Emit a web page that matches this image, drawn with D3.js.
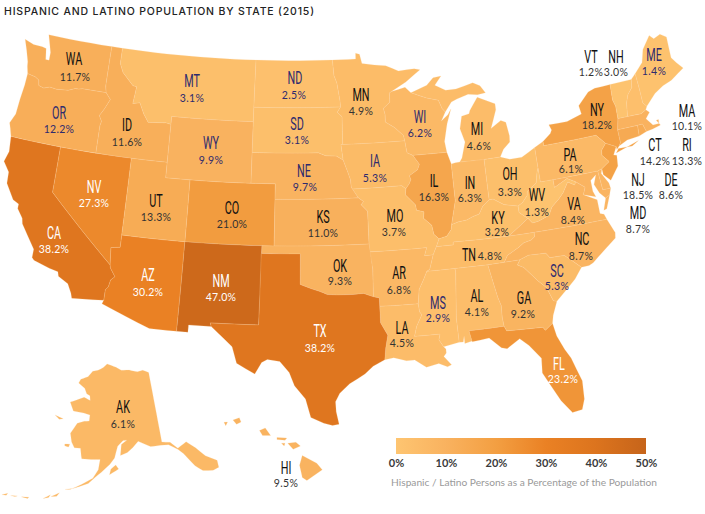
<!DOCTYPE html>
<html>
<head>
<meta charset="utf-8">
<script src="https://cdn.jsdelivr.net/npm/d3@7"></script>
<style>
  body { margin: 0; background: #fff; }
  svg { display: block; }
  .title { font-family: Inter, sans-serif; font-size: 10.5px; font-weight: 500; fill: #222; }
  .name { font-family: Roboto, sans-serif; font-size: 18px; }
  .val { font-family: Lato, sans-serif; font-size: 10.5px; letter-spacing: .3px; }
  .state { stroke: #fdd8a4; stroke-width: .4; stroke-opacity: .5; stroke-linejoin: round; }
  .legendAxis text { font-family: Lato, sans-serif; font-size: 11px; font-weight: 700; fill: #3a3a3a; }
  .caption { font-family: Lato, sans-serif; font-size: 10.2px; fill: #9a9a9a; }
</style>
</head>
<body>
<div id="map"></div>
<script>

// DATA

const titleText = "HISPANIC AND LATINO POPULATION BY STATE (2015)";
const captionText = "Hispanic / Latino Persons as a Percentage of the Population";

const stateCodes = ["AK","AL","AR","AZ","CA","CO","CT","DE","FL","GA","HI","IA","ID","IL","IN","KS","KY","LA","MA","MD","ME","MI","MN","MO","MS","MT","NC","ND","NE","NH","NJ","NM","NV","NY","OH","OK","OR","PA","RI","SC","SD","TN","TX","UT","VA","VT","WA","WI","WV","WY"];
const stateValues = [6.1,4.1,6.8,30.2,38.2,21.0,14.2,8.6,23.2,9.2,9.5,5.3,11.6,16.3,6.3,11.0,3.2,4.5,10.1,8.7,1.4,4.6,4.9,3.7,2.9,3.1,8.7,2.5,9.7,3.0,18.5,47.0,27.3,18.2,3.3,9.3,12.2,6.1,13.3,5.3,3.1,4.8,38.2,13.3,8.4,1.2,11.7,6.2,1.3,9.9];

const purpleStates = ["MT","ND","SD","WY","NE","OR","WI","IA","MS","SC","ME"];
const whiteStates = ["CA","NV","AZ","NM","TX","FL"];

const legendTicks = [0,10,20,30,40,50];
const colorStops = ["#fec571","#f9b25f","#f39f42","#ea8124","#dc741e","#c6641a"];

// outlines in lon/lat
const shapes = {
  WA: [[[-124.73,48.38],[-123.9,48.17],[-123.1,48.15],[-122.75,48.1],[-122.6,47.4],[-122.3,47.4],[-122.3,47.9],[-122.5,48.4],[-122.75,49],[-117.03,49],[-117.04,46.42],[-116.92,46],[-118.98,46],[-119.3,45.93],[-119.6,45.92],[-120.2,45.73],[-121.2,45.65],[-121.8,45.7],[-122.3,45.55],[-122.75,45.65],[-122.85,46],[-123.2,46.15],[-123.9,46.25],[-124.05,46.7],[-124.1,47],[-124.4,47.7]]],
  OR: [[[-123.9,46.25],[-123.2,46.15],[-122.85,46],[-122.75,45.65],[-122.3,45.55],[-121.8,45.7],[-121.2,45.65],[-120.2,45.73],[-119.6,45.92],[-119.3,45.93],[-118.98,46],[-116.92,46],[-116.47,45.6],[-116.85,44.95],[-117.2,44.45],[-116.95,44.1],[-117.03,43.8],[-117.03,42],[-124.21,42],[-124.4,42.5],[-124.55,42.84],[-124.2,43.5],[-124.1,44.5],[-123.95,45.5]]],
  CA: [[[-124.21,42],[-120,42],[-120,39],[-114.63,35],[-114.57,34.8],[-114.14,34.3],[-114.43,34.05],[-114.53,33.6],[-114.72,33.4],[-114.72,32.72],[-117.12,32.53],[-117.25,32.85],[-117.6,33.4],[-118.4,33.75],[-118.5,34.03],[-119.2,34.15],[-120.47,34.45],[-120.65,34.6],[-120.65,35.15],[-121.9,36.6],[-122,36.95],[-122.5,37.5],[-122.5,37.8],[-123,38],[-123.75,38.95],[-123.8,39.7],[-124.35,40.3],[-124.1,41]]],
  NV: [[[-120,42],[-114.04,42],[-114.04,36.2],[-114.75,36.1],[-114.63,35],[-120,39]]],
  ID: [[[-117.03,49],[-116.05,49],[-116.05,48],[-115.7,47.45],[-114.7,46.7],[-114.35,46.65],[-114.5,45.55],[-113.9,45.65],[-113.45,44.95],[-113,44.45],[-111.5,44.55],[-111.05,44.48],[-111.05,42],[-117.03,42],[-117.03,43.8],[-116.95,44.1],[-117.2,44.45],[-116.85,44.95],[-116.47,45.6],[-116.92,46],[-117.04,46.42]]],
  MT: [[[-116.05,49],[-104.05,49],[-104.05,45],[-111.05,45],[-111.05,44.48],[-111.5,44.55],[-113,44.45],[-113.45,44.95],[-113.9,45.65],[-114.5,45.55],[-114.35,46.65],[-114.7,46.7],[-115.7,47.45],[-116.05,48]]],
  WY: [[[-111.05,45],[-104.05,45],[-104.05,41],[-111.05,41]]],
  UT: [[[-114.04,42],[-111.05,42],[-111.05,41],[-109.05,41],[-109.05,37],[-114.04,37]]],
  CO: [[[-109.05,41],[-102.05,41],[-102.05,37],[-109.05,37]]],
  AZ: [[[-114.04,37],[-109.05,37],[-109.05,31.33],[-111.07,31.33],[-114.81,32.5],[-114.72,32.72],[-114.72,33.4],[-114.53,33.6],[-114.43,34.05],[-114.14,34.3],[-114.57,34.8],[-114.63,35],[-114.75,36.1],[-114.04,36.2]]],
  NM: [[[-109.05,37],[-103,37],[-103.04,32],[-106.62,32],[-106.53,31.78],[-108.21,31.78],[-108.21,31.33],[-109.05,31.33]]],
  ND: [[[-104.05,49],[-97.23,49],[-97.1,48],[-96.85,47.5],[-96.6,46.35],[-96.56,45.94],[-104.05,45.94]]],
  SD: [[[-104.05,45.94],[-96.56,45.94],[-96.85,45.6],[-96.45,45.3],[-96.45,43.5],[-96.6,43.5],[-96.45,42.49],[-97,42.76],[-97.9,42.8],[-98.5,43],[-104.05,43]]],
  NE: [[[-104.05,43],[-98.5,43],[-97.9,42.8],[-97,42.76],[-96.45,42.49],[-96.1,41.7],[-95.9,41.2],[-95.85,40.7],[-95.31,40],[-102.05,40],[-102.05,41],[-104.05,41]]],
  KS: [[[-102.05,40],[-95.31,40],[-94.9,39.75],[-95.1,39.55],[-94.61,39.11],[-94.62,37],[-102.05,37]]],
  OK: [[[-103,37],[-94.62,37],[-94.43,35.4],[-94.48,33.64],[-95.2,33.88],[-96,33.85],[-96.6,33.85],[-97.2,33.85],[-97.95,33.9],[-98.5,34.1],[-99.2,34.3],[-100,34.56],[-100,36.5],[-103,36.5]]],
  TX: [[[-103.04,36.5],[-100,36.5],[-100,34.56],[-99.2,34.3],[-98.5,34.1],[-97.95,33.9],[-97.2,33.85],[-96.6,33.85],[-96,33.85],[-95.2,33.88],[-94.48,33.64],[-94.04,33.55],[-94.04,32],[-93.55,31.2],[-93.75,30.4],[-93.85,29.7],[-94.7,29.35],[-95.3,28.9],[-96.4,28.35],[-97.1,27.8],[-97.4,27.3],[-97.35,26.7],[-97.15,25.96],[-97.6,25.9],[-98.2,26.05],[-99.1,26.4],[-99.5,27.5],[-100.3,28.3],[-100.7,29.1],[-101.4,29.77],[-102.3,29.88],[-102.7,29.7],[-103.15,28.98],[-104.5,29.6],[-104.9,30.6],[-106,31.4],[-106.53,31.78],[-106.62,32],[-103.04,32]]],
  MN: [[[-97.23,49],[-95.15,49],[-95.15,49.38],[-94.8,49.3],[-94.6,48.7],[-93.5,48.55],[-92.5,48.45],[-91.4,48.05],[-90,48.1],[-89.5,48],[-90.8,47.3],[-92.1,46.75],[-92.29,46.66],[-92.29,46.07],[-92.87,45.7],[-92.75,45.3],[-92.76,44.8],[-92,44.4],[-91.3,43.85],[-91.22,43.5],[-96.45,43.5],[-96.45,45.3],[-96.85,45.6],[-96.56,45.94],[-96.6,46.35],[-96.85,47.5],[-97.1,48]]],
  IA: [[[-96.6,43.5],[-91.22,43.5],[-91.15,43],[-91.1,42.7],[-90.64,42.51],[-90.15,41.9],[-90.34,41.55],[-91.05,41.2],[-90.95,40.95],[-91.1,40.7],[-91.42,40.38],[-91.73,40.61],[-95.77,40.58],[-95.85,40.7],[-95.9,41.2],[-96.1,41.7],[-96.45,42.49]]],
  MO: [[[-95.77,40.58],[-91.73,40.61],[-91.42,40.38],[-91.5,40],[-90.75,39.3],[-90.7,38.95],[-90.12,38.8],[-90.2,38.4],[-89.6,37.9],[-89.5,37.3],[-89.13,36.98],[-89.4,36.5],[-89.7,36],[-90.37,36],[-90.15,36.5],[-94.62,36.5],[-94.62,37],[-94.61,39.11],[-95.1,39.55],[-94.9,39.75],[-95.31,40]]],
  AR: [[[-94.62,36.5],[-90.15,36.5],[-90.37,36],[-89.7,36],[-90.07,35.1],[-90.3,35],[-90.6,34.5],[-91,33.9],[-91.15,33],[-94.04,33.02],[-94.04,33.55],[-94.48,33.64],[-94.43,35.4]]],
  LA: [[[-94.04,33.02],[-91.15,33],[-91.1,32.5],[-90.95,32.3],[-91.4,31.6],[-91.6,31],[-89.73,31],[-89.85,30.65],[-89.55,30.2],[-89.4,30.05],[-89.4,29.8],[-89.6,29.6],[-89.1,29.05],[-89.4,28.95],[-90,29.2],[-90.9,29.05],[-91.7,29.55],[-92.3,29.55],[-93.2,29.78],[-93.85,29.7],[-93.75,30.4],[-93.55,31.2],[-94.04,32]]],
  MS: [[[-90.3,35],[-88.2,35],[-88.1,34.9],[-88.43,31.9],[-88.4,30.37],[-89.55,30.2],[-89.85,30.65],[-89.73,31],[-91.6,31],[-91.4,31.6],[-90.95,32.3],[-91.1,32.5],[-91.15,33],[-91,33.9],[-90.6,34.5]]],
  AL: [[[-88.2,35],[-85.6,34.98],[-85.18,32.87],[-85,32.3],[-85.05,31.55],[-85,31],[-87.6,31],[-87.45,30.35],[-88,30.25],[-88,30.7],[-88.1,30.35],[-88.4,30.37],[-88.43,31.9],[-88.1,34.9]]],
  TN: [[[-89.4,36.5],[-88.07,36.5],[-88.05,36.68],[-83.68,36.6],[-81.68,36.59],[-81.7,36.3],[-82,36.13],[-82.6,36.03],[-83.1,35.77],[-84,35.4],[-84.32,34.99],[-85.6,34.98],[-88.2,35],[-90.3,35],[-90.07,35.1],[-89.7,36]]],
  KY: [[[-89.13,36.98],[-88.5,37.1],[-88.1,37.5],[-88.03,37.8],[-87.5,37.93],[-86.8,37.98],[-86.3,38.15],[-85.75,38.27],[-85.4,38.73],[-84.82,39.1],[-84.5,39.1],[-83.7,38.65],[-82.6,38.42],[-82.6,38],[-82,37.55],[-81.97,37.54],[-83.68,36.6],[-88.05,36.68],[-88.07,36.5],[-89.4,36.5]]],
  IL: [[[-87.53,41.7],[-87.8,42.49],[-90.64,42.51],[-90.15,41.9],[-90.34,41.55],[-91.05,41.2],[-90.95,40.95],[-91.1,40.7],[-91.42,40.38],[-91.5,40],[-90.75,39.3],[-90.7,38.95],[-90.12,38.8],[-90.2,38.4],[-89.6,37.9],[-89.5,37.3],[-89.13,36.98],[-88.5,37.1],[-88.1,37.5],[-88.03,37.8],[-87.53,39.3]]],
  IN: [[[-87.53,41.7],[-87.2,41.75],[-86.82,41.76],[-84.8,41.76],[-84.82,39.1],[-85.4,38.73],[-85.75,38.27],[-86.3,38.15],[-86.8,37.98],[-87.5,37.93],[-88.03,37.8],[-87.53,39.3]]],
  OH: [[[-84.8,41.72],[-83.45,41.73],[-82.7,41.5],[-81.7,41.5],[-80.52,41.98],[-80.52,40.64],[-80.65,40.4],[-80.87,39.7],[-81.7,39.25],[-81.75,39],[-82.2,38.6],[-82.6,38.42],[-83.7,38.65],[-84.5,39.1],[-84.82,39.1]]],
  MI: [[[-86.82,41.76],[-84.8,41.72],[-83.45,41.73],[-83.1,42.2],[-82.5,42.6],[-82.45,43],[-82.6,43.9],[-83,44.07],[-83.9,43.65],[-83.3,44.8],[-83.3,45.2],[-84.75,45.78],[-85.5,45],[-85.6,44.8],[-86.25,44.7],[-86.5,43.9],[-86.2,43],[-86.6,42]],
       [[-90.42,46.57],[-89,46.95],[-88.4,47.4],[-87.7,47.45],[-88.3,46.9],[-87.4,46.5],[-86.5,46.5],[-85,46.75],[-84.4,46.5],[-84,46],[-84.7,45.95],[-85.5,46.05],[-86.5,45.85],[-87,45.7],[-87.6,45.1],[-87.85,45.35],[-88.1,45.9],[-89.1,46.13]]],
  WI: [[[-92.1,46.75],[-90.9,46.95],[-90.42,46.57],[-89.1,46.13],[-88.1,45.9],[-87.85,45.35],[-87.6,45.1],[-88,44.55],[-87.4,44.9],[-87.1,45.25],[-87.55,44.3],[-87.9,43.2],[-87.8,42.49],[-90.64,42.51],[-91.1,42.7],[-91.15,43],[-91.22,43.5],[-91.3,43.85],[-92,44.4],[-92.76,44.8],[-92.75,45.3],[-92.87,45.7],[-92.29,46.07],[-92.29,46.66]]],
  GA: [[[-85.6,34.98],[-84.32,34.99],[-83.1,35],[-83.35,34.7],[-82.9,34.48],[-82,33.5],[-81.45,33],[-81.1,32.1],[-80.85,32.03],[-81.3,31.2],[-81.45,30.72],[-82.05,30.36],[-82.2,30.57],[-84.86,30.7],[-85,31],[-85.05,31.55],[-85,32.3],[-85.18,32.87]]],
  FL: [[[-87.6,31],[-85,31],[-84.86,30.7],[-82.2,30.57],[-82.05,30.36],[-81.45,30.72],[-81.3,29.9],[-80.9,29],[-80.55,28.4],[-80.05,26.9],[-80.13,25.8],[-80.4,25.2],[-81.1,25.13],[-81.75,25.95],[-82.1,26.6],[-82.75,27.8],[-82.65,28.7],[-83.4,29.6],[-84,30.1],[-85,29.6],[-85.4,29.7],[-86.2,30.4],[-87.45,30.3]]],
  SC: [[[-83.1,35],[-82.4,35.2],[-81.05,35.15],[-80.8,34.82],[-79.67,34.8],[-78.55,33.86],[-79.2,33.2],[-79.9,32.7],[-80.85,32.03],[-81.1,32.1],[-81.45,33],[-82,33.5],[-82.9,34.48],[-83.35,34.7]]],
  NC: [[[-84.32,34.99],[-84,35.4],[-83.1,35.77],[-82.6,36.03],[-82,36.13],[-81.7,36.3],[-81.68,36.59],[-75.87,36.55],[-75.45,35.6],[-75.53,35.25],[-76.55,34.65],[-77.6,34],[-77.95,33.87],[-78.55,33.86],[-79.67,34.8],[-80.8,34.82],[-81.05,35.15],[-82.4,35.2],[-83.1,35]]],
  VA: [[[-83.68,36.6],[-81.97,37.54],[-81.68,37.2],[-81.2,37.25],[-80.3,37.5],[-79.95,38],[-79.3,38.42],[-78.87,38.77],[-78.35,39.4],[-77.83,39.13],[-77.72,39.32],[-77.05,38.85],[-77.3,38.4],[-76.3,37.9],[-76.3,37],[-76,36.9],[-75.87,36.55],[-81.68,36.59]],
       [[-75.95,37.15],[-75.6,37.9],[-75.25,38.03],[-75.7,37.2]]],
  WV: [[[-80.52,40.64],[-80.52,39.72],[-79.48,39.72],[-79.48,39.2],[-78.35,39.63],[-77.72,39.32],[-77.83,39.13],[-78.35,39.4],[-78.87,38.77],[-79.3,38.42],[-79.95,38],[-80.3,37.5],[-81.2,37.25],[-81.68,37.2],[-81.97,37.54],[-82,37.55],[-82.6,38],[-82.6,38.42],[-82.2,38.6],[-81.75,39],[-81.7,39.25],[-80.87,39.7],[-80.65,40.4]]],
  PA: [[[-80.52,41.98],[-79.76,42.27],[-79.76,42],[-75.35,42],[-74.7,41.36],[-75.13,40.98],[-75.2,40.65],[-74.72,40.15],[-75.42,39.8],[-75.79,39.72],[-80.52,39.72]]],
  MD: [[[-79.48,39.72],[-75.79,39.72],[-75.7,38.46],[-75.05,38.45],[-75.25,38.03],[-75.6,37.9],[-76,38.3],[-76.3,38.9],[-76,39.5],[-76.5,39.2],[-76.5,38.5],[-76.35,38.1],[-77.3,38.4],[-77.05,38.85],[-77.72,39.32],[-78.35,39.63],[-79.48,39.2]]],
  DE: [[[-75.79,39.72],[-75.42,39.8],[-75.55,39.5],[-75.1,38.8],[-75.05,38.45],[-75.7,38.46]]],
  NJ: [[[-74.7,41.36],[-73.9,41],[-74.25,40.5],[-74,40.45],[-74.1,39.75],[-74.9,38.95],[-75.4,39.4],[-75.42,39.8],[-74.72,40.15],[-75.2,40.65],[-75.13,40.98]]],
  NY: [[[-79.76,42.27],[-79.05,42.7],[-78.9,42.9],[-79.05,43.27],[-77.5,43.25],[-76.2,43.55],[-76.3,44.1],[-75.3,44.85],[-74.7,45],[-73.35,45.01],[-73.4,44],[-73.25,43.55],[-73.28,42.75],[-73.5,42.05],[-73.49,41.2],[-73.65,41],[-73.9,40.8],[-73.9,41],[-74.7,41.36],[-75.35,42],[-79.76,42]],
       [[-74,40.6],[-72,41.05],[-72.6,40.8],[-73.75,40.85]]],
  CT: [[[-73.5,42.05],[-71.8,42.02],[-71.86,41.32],[-72.9,41.25],[-73.65,41],[-73.49,41.2]]],
  RI: [[[-71.8,42.02],[-71.38,42.02],[-71.2,41.5],[-71.86,41.32]]],
  MA: [[[-73.5,42.05],[-73.28,42.75],[-71.3,42.7],[-70.85,42.87],[-70.6,42.65],[-71,42.3],[-70.55,41.8],[-70.05,41.8],[-70,42.05],[-70.2,42.05],[-69.95,41.67],[-70.65,41.55],[-71.2,41.5],[-71.38,42.02],[-71.8,42.02]]],
  VT: [[[-73.35,45.01],[-71.5,45.01],[-71.6,44.5],[-72.05,44.1],[-72.3,43.6],[-72.46,42.73],[-73.28,42.75],[-73.25,43.55],[-73.4,44]]],
  NH: [[[-71.5,45.01],[-71.08,45.3],[-71,44.3],[-70.97,43.35],[-70.7,43.07],[-70.85,42.87],[-71.3,42.7],[-72.46,42.73],[-72.3,43.6],[-72.05,44.1],[-71.6,44.5]]],
  ME: [[[-71.08,45.3],[-70.3,45.9],[-70,46.7],[-69.23,47.46],[-68.9,47.18],[-68.3,47.36],[-67.8,47.07],[-67.8,45.7],[-67.45,45.3],[-67,44.85],[-68.2,44.3],[-69,44.1],[-69.8,43.75],[-70.7,43.07],[-70.97,43.35],[-71,44.3]]],
  AK: [[[-141,69.65],[-143,70.1],[-145,70],[-148,70.4],[-151,70.45],[-153,70.9],[-156.6,71.35],[-158,70.85],[-160,70.4],[-162,70.2],[-163.5,69.4],[-166,68.9],[-166.5,68.35],[-164,67.8],[-163,67.1],[-161.8,66.9],[-161.5,66.3],[-163.7,66.6],[-168,65.65],[-166.4,64.6],[-163,64.55],[-161,64.4],[-161,63.6],[-162.5,63.5],[-164.5,63.1],[-166,61.7],[-165.2,60.6],[-164.2,59.95],[-162.5,60],[-162,59],[-161.8,58.7],[-158.5,58.75],[-157,58.8],[-157.3,57.5],[-158.5,56.4],[-161,55.5],[-163.5,54.7],[-164.8,54.55],[-163,54.85],[-161.5,55.2],[-159.5,55.7],[-158,56.5],[-156.5,57.2],[-154.5,58.2],[-153.3,59],[-153,59.6],[-152.5,60.5],[-151,61.2],[-150,61.2],[-151.5,60.7],[-151.8,59.3],[-150,59.6],[-148.5,60.2],[-147,60.9],[-146,60.6],[-144,60],[-141.5,59.9],[-139.5,59.75],[-137.5,58.85],[-136.5,58.1],[-135.5,57],[-134.8,56.2],[-133.5,55.3],[-131.5,54.9],[-130.2,55],[-130,55.9],[-132,57],[-133.5,58.4],[-135.2,59.5],[-137.5,59],[-139,60],[-141,60.3]],
       [[-154.5,56.9],[-152.3,57.6],[-153,58.1],[-154.2,57.6]],
       [[-167,60.2],[-165.6,60.3],[-165.8,59.9],[-166.9,59.95]],
       [[-171.8,63.5],[-169,63.3],[-170.2,63.1]],
       [[-167.8,53.3],[-166,54],[-166.5,53.5]],
       [[-169.5,52.8],[-168,53.5],[-168.3,53.1]],
       [[-174.5,52.1],[-172.8,52.4],[-173,52.2]],
       [[-177,51.7],[-175.5,52],[-176,51.8]],
       [[-179,51.3],[-177.8,51.8],[-178,51.5]]],
  HI: [[[-155.9,20.25],[-155.1,19.85],[-154.8,19.5],[-155.65,18.95],[-155.9,19.1],[-156.05,19.75]],
       [[-156.7,20.9],[-156.25,20.95],[-156,20.75],[-156.4,20.58]],
       [[-157.3,21.2],[-156.75,21.17],[-156.85,21.05],[-157.3,21.1]],
       [[-157.05,20.9],[-156.85,20.9],[-156.9,20.75]],
       [[-158.27,21.57],[-157.95,21.7],[-157.65,21.3],[-158.1,21.3]],
       [[-159.75,22.1],[-159.4,22.23],[-159.3,22],[-159.55,21.88]],
       [[-160.25,21.98],[-160.05,22],[-160.15,21.8]]]
};

// hand placed labels, name centre and value centre
const labelAt = {
  WA:[74,59,75,76], OR:[59,113,59,128], ID:[127,125,127,141], MT:[192,81,192,97], ND:[295,78,294,94], SD:[297,124,297,139],
  WY:[211,143,211,159], NE:[304,171,305,186], NV:[94,187,94,202], UT:[156,201,156,216], CO:[232,208,232,223], KS:[323,217,323,232],
  CA:[54,233,54,248], AZ:[148,275,148,291], NM:[221,281,221,296], OK:[340,266,340,280], TX:[320,331,320,347], AK:[123,407,123,423],
  HI:[286,468,286,482], MN:[361,95,361,110], WI:[420,117,420,132], MI:[477,129,479,145], IA:[375,161,375,177], IL:[434,181,434,196],
  IN:[470,183,470,197], OH:[510,174,510,191], PA:[570,155,571,168], NY:[597,110,597,124], WV:[537,195,537,211], VA:[574,204,573,219],
  KY:[498,218,497,231], MO:[395,216,394,231], NC:[582,239,581,255], TN:[469,255,490,255], VT:[591,57,591,71], NH:[616,57,616,71],
  ME:[654,55,654,70], MA:[687,111,687,125], CT:[655,145,655,160], RI:[687,145,687,160], NJ:[638,180,638,194], DE:[671,180,671,194],
  MD:[638,213,638,228], AR:[399,273,399,289], LA:[402,328,402,342], MS:[438,303,438,317], AL:[477,296,477,311], GA:[524,298,523,313],
  SC:[557,271,557,285], FL:[559,364,563,378]
};

// landmarks: lon, lat, x, y. The map there is a warped albers,
// so a small polynomial is fitted on top of the projection
const mainLandmarks = [
  [-117.03,49,112,47],[-122.75,49,49,35],[-124.73,48.38,26,39],[-104.05,49,255,60],[-111.05,45,172,116],[-104.05,45,253,121],
  [-104.05,41,252,183],[-111.05,41,167,177],[-114.04,42,131,159],[-120,42,60,146],[-124.21,42,10,137],[-120,39,52,192],
  [-102.05,41,275,183],[-109.05,37,185,242],[-102.05,37,275,246],[-96.56,45.94,340,107],[-97.23,49,333,60],
  [-117.12,32.53,72,299],[-114.81,32.5,102,303],[-111.07,31.33,150,329],[-109.05,31.33,178,332],[-103.04,32,259,325],[-106.53,31.78,212,326],
  [-103.15,28.98,257,373],[-97.15,25.96,340,422],[-101.4,29.77,268,360],[-99.5,27.5,308,403],
  [-93.85,29.7,385,358],[-89.1,29.05,453,366],[-88.4,30.37,463,342],[-87.6,31,469,333],[-81.45,30.72,554,325],[-80.55,28.4,568,357],
  [-80.05,26.9,584,388],[-81.1,25.13,573,410],[-82.75,27.8,542,368],[-84,30.1,517,342],[-85,29.6,505,348],[-80.85,32.03,557,300],
  [-75.53,35.25,617,233],[-75.87,36.55,608,218],[-74.9,38.95,608,177],[-74.7,41.36,603,143],[-80.52,41.98,535,151],[-80.52,39.72,540,182],
  [-73.35,45.01,608,85],[-79,42.9,548,125],[-70,42,662,130],[-69.23,47.46,653,35],[-67,44.85,680,65],
  [-95.15,49.38,355,54],[-92.1,46.75,390,92],[-89.13,36.98,437,239],[-90.64,42.51,413,157],[-87.8,42.49,449,153],[-87.53,41.7,452,165],
  [-83.45,41.73,507,158],[-84.75,45.78,475,95]
];

const alaskaLandmarks = [
  [-156.6,71.35,107,364],[-141,69.65,149,373],[-141,60.3,163,443],[-166.5,68.35,79,382],[-168,65.65,70,402],[-166,61.7,70,433],
  [-163.5,54.7,67,488],[-179,51.3,3,495],[-150,61.2,128,442],[-153.5,57.5,117,470],[-131,55,217,471],[-134.5,58.3,187,445],
  [-170.5,63.4,58,417],[-166.3,60.1,67,445],[-162,59,82,457]
];

// MAKE SVG CANVAS

const width = 705;
const height = 514;
const svg = d3.select("#map")
    .append("svg")
    .attr("width",width)
    .attr("height",height);

// SCALES

const colorScale = d3.scaleLinear()
    .domain(legendTicks)
    .range(colorStops);

const lower48 = d3.geoConicEqualArea()
    .parallels([29.5,45.5])
    .rotate([96,0])
    .center([-0.6,38.7])
    .scale(930)
    .translate([350,220]);

const alaska = d3.geoConicEqualArea()
    .parallels([55,65])
    .rotate([154,0])
    .center([-2,58.5])
    .scale(443)
    .translate([108,463]);

const hawaii = d3.geoConicEqualArea()
    .parallels([8,18])
    .rotate([157,0])
    .center([-3,19.9])
    .scale(1100)
    .translate([228,462]);

// WARP

function terms(u,v,degree) {
    const t = [1,u,v,u*u,u*v,v*v];
    if (degree > 2) t.push(u*u*u,u*u*v,u*v*v,v*v*v);
    return t;
}

// normal equations + gaussian elimination
function solve(rows,targets) {
    const n = rows[0].length;
    const m = d3.range(n).map(function(i) {
        const row = d3.range(n).map(function(j) { return d3.sum(rows,function(r) { return r[i]*r[j]; }); });
        row.push(d3.sum(rows,function(r,k) { return r[i]*targets[k]; }));
        return row;
    });
    for (let i = 0; i < n; i++) {
        let best = i;
        for (let k = i+1; k < n; k++) if (Math.abs(m[k][i]) > Math.abs(m[best][i])) best = k;
        [m[i],m[best]] = [m[best],m[i]];
        for (let k = 0; k < n; k++) {
            if (k === i) continue;
            const f = m[k][i]/m[i][i];
            for (let j = i; j <= n; j++) m[k][j] -= f*m[i][j];
        }
    }
    return d3.range(n).map(function(i) { return m[i][n]/m[i][i]; });
}

function fitWarp(projection,landmarks,degree) {
    const rows = landmarks.map(function(d) {
        const p = projection([d[0],d[1]]);
        return terms((p[0]-350)/350,(p[1]-220)/220,degree);
    });
    const xs = solve(rows,landmarks.map(function(d) { return d[2]; }));
    const ys = solve(rows,landmarks.map(function(d) { return d[3]; }));
    return function(p) {
        const t = terms((p[0]-350)/350,(p[1]-220)/220,degree);
        return [d3.sum(t,function(v,i) { return v*xs[i]; }), d3.sum(t,function(v,i) { return v*ys[i]; })];
    };
}

// PATHS

// flat lon/lat lines, broken up so parallels curve like they should
function densify(ring) {
    const out = [];
    const closed = ring.concat([ring[0]]);
    for (let i = 0; i < closed.length-1; i++) {
        const a = closed[i], b = closed[i+1];
        const n = Math.ceil(Math.max(Math.abs(b[0]-a[0]),Math.abs(b[1]-a[1])));
        for (let k = 0; k < n; k++) {
            out.push([a[0]+(b[0]-a[0])*k/n, a[1]+(b[1]-a[1])*k/n]);
        }
    }
    out.push(out[0]);
    return out;
}

function pathFor(projection,warp) {
    return d3.geoPath(d3.geoTransform({
        point: function(x,y) {
            const p = warp(projection([x,y]));
            this.stream.point(p[0],p[1]);
        }
    }));
}

const paths = {
    AK: pathFor(alaska,fitWarp(alaska,alaskaLandmarks,2)),
    HI: pathFor(hawaii,function(p) { return p; })
};
const mainPath = pathFor(lower48,fitWarp(lower48,mainLandmarks,3));

const stateData = stateCodes.map(function(code,i) {
    return {code: code, value: stateValues[i]};
});

svg.selectAll("path.state")
    .data(stateData)
    .enter()
    .append("path")
        .attr("class","state")
        .attr("d", function(d) {
            const geo = {type:"MultiPolygon", coordinates: shapes[d.code].map(function(r) { return [densify(r)]; })};
            return (paths[d.code] || mainPath)(geo);
        })
        .attr("fill", function(d) { return colorScale(d.value); });

// LABELS

function labelColor(code,dark) {
    if (whiteStates.includes(code)) return "#fff";
    if (purpleStates.includes(code)) return "#2e2a6e";
    return dark;
}

svg.selectAll("text.name")
    .data(stateData)
    .enter()
    .append("text")
        .attr("class","name")
        .attr("text-anchor","middle")
        .attr("transform", function(d) {
            return `translate(${labelAt[d.code][0]},${labelAt[d.code][1]+6}) scale(.6,1.04)`;
        })
        .attr("fill", function(d) { return labelColor(d.code,"#111"); })
        .text(function(d) { return d.code; });

svg.selectAll("text.val")
    .data(stateData)
    .enter()
    .append("text")
        .attr("class","val")
        .attr("text-anchor","middle")
        .attr("x", function(d) { return labelAt[d.code][2]; })
        .attr("y", function(d) { return labelAt[d.code][3]+4.5; })
        .attr("fill", function(d) { return labelColor(d.code,"#333"); })
        .text(function(d) { return d.value.toFixed(1)+"%"; });

// TITLE

svg.append("text")
    .attr("class","title")
    .attr("x",4)
    .attr("y",15)
    .attr("textLength",310)
    .attr("lengthAdjust","spacing")
    .text(titleText);

// LEGEND

const legendScale = d3.scaleLinear()
    .domain([0,50])
    .range([396,646]);

const defs = svg.append("defs");
const gradient = defs.append("linearGradient").attr("id","legendFill");
gradient.selectAll("stop")
    .data(legendTicks)
    .enter()
    .append("stop")
        .attr("offset", function(d) { return (d/50*100)+"%"; })
        .attr("stop-color", function(d) { return colorScale(d); });

svg.append("rect")
    .attr("x",legendScale(0))
    .attr("y",438)
    .attr("width",legendScale(50)-legendScale(0))
    .attr("height",16)
    .attr("fill","url(#legendFill)");

const legendAxis = svg.append("g")
    .attr("class","legendAxis")
    .attr("transform","translate(0,455)")
    .call(d3.axisBottom().scale(legendScale).tickValues(legendTicks).tickSize(0).tickPadding(4).tickFormat(function(d) { return d+"%"; }));
legendAxis.select(".domain").remove();

svg.append("text")
    .attr("class","caption")
    .attr("x",524)
    .attr("y",486)
    .attr("text-anchor","middle")
    .text(captionText);

</script>
</body>
</html>
